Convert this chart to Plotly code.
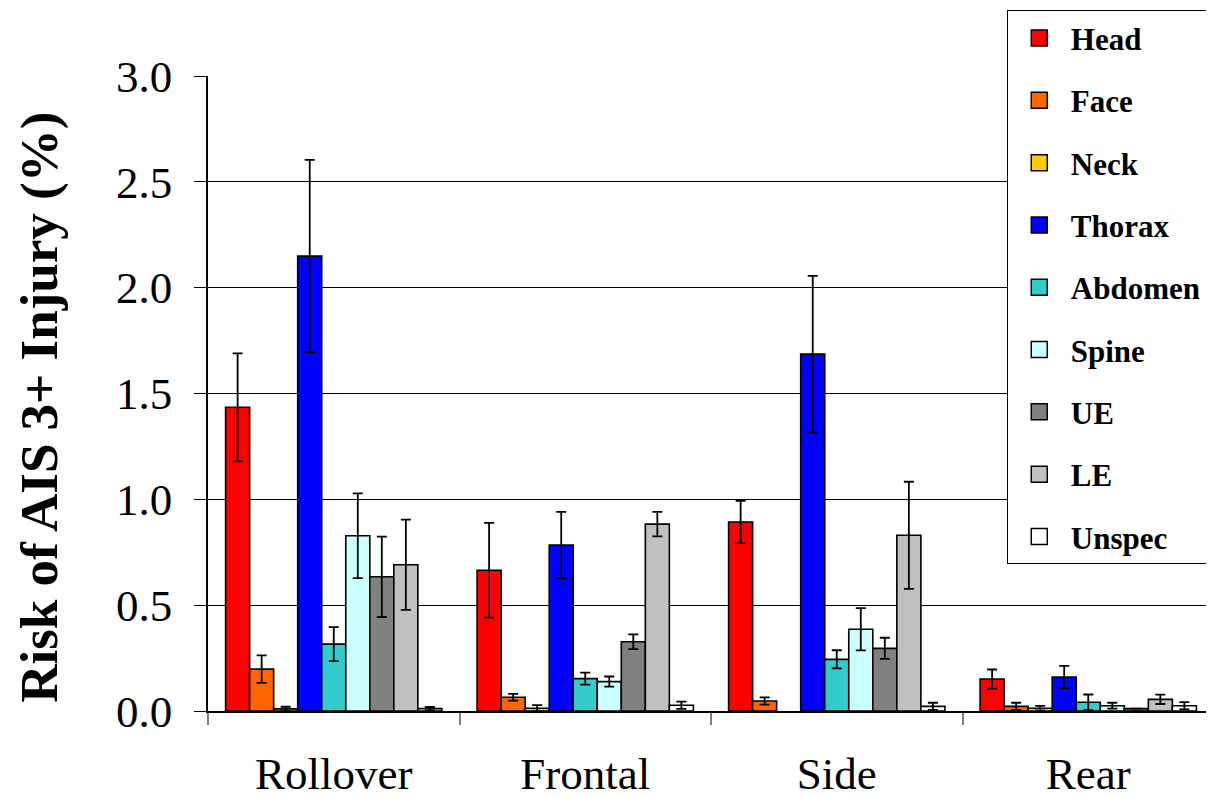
import plotly.graph_objects as go

crash_types = ["Rollover", "Frontal", "Side", "Rear"]
regions = ["Head", "Face", "Neck", "Thorax", "Abdomen", "Spine", "UE", "LE", "Unspec"]
colors = ["#FF0000", "#FF6600", "#FFCC00", "#0000FF", "#33CCCC", "#CCFFFF", "#808080", "#C0C0C0", "#FFFFFF"]
y_title = "Risk of AIS 3+ Injury (%)"

# risk values (%) per body region, order: Rollover, Frontal, Side, Rear
head    = [1.435, 0.665, 0.893, 0.151]
face    = [0.198, 0.065, 0.047, 0.022]
neck    = [0.010, 0.013, None, 0.013]
thorax  = [2.149, 0.784, 1.686, 0.160]
abdomen = [0.316, 0.153, 0.244, 0.041]
spine   = [0.828, 0.139, 0.386, 0.025]
ue      = [0.634, 0.327, 0.296, 0.011]
le      = [0.691, 0.883, 0.830, 0.055]
unspec  = [0.011, 0.027, 0.022, 0.025]

# error bar half-widths (%)
head_err    = [0.255, 0.224, 0.100, 0.045]
face_err    = [0.065, 0.016, 0.017, 0.017]
neck_err    = [0.010, 0.015, None, 0.011]
thorax_err  = [0.455, 0.157, 0.370, 0.053]
abdomen_err = [0.080, 0.028, 0.043, 0.037]
spine_err   = [0.200, 0.024, 0.100, 0.014]
ue_err      = [0.190, 0.035, 0.050, None]
le_err      = [0.213, 0.058, 0.253, 0.022]
unspec_err  = [0.008, 0.017, 0.017, 0.017]

values = [head, face, neck, thorax, abdomen, spine, ue, le, unspec]
errors = [head_err, face_err, neck_err, thorax_err, abdomen_err, spine_err, ue_err, le_err, unspec_err]

FONT = "Liberation Serif"

fig = go.Figure()
for name, col, vals, errs in zip(regions, colors, values, errors):
    fig.add_trace(go.Bar(
        name=name, x=crash_types, y=vals,
        marker=dict(color=col, line=dict(color="#000000", width=1.6)),
        error_y=dict(type="data", array=errs, visible=True, color="#000000", thickness=1.8, width=5),
        showlegend=False, legendgroup=name,
    ))
    fig.add_trace(go.Scatter(
        name=name, x=[None], y=[None], mode="markers",
        marker=dict(symbol="square", size=16, color=col, line=dict(color="#000000", width=1.5)),
        showlegend=True, legendgroup=name,
    ))

fig.update_layout(
    width=1214, height=797,
    margin=dict(l=200, r=8, t=68, b=94, autoexpand=False),
    paper_bgcolor="white", plot_bgcolor="white",
    barmode="group", bargap=0.14, bargroupgap=0,
    font=dict(family=FONT, color="#000000"),
    legend=dict(
        x=0.794, xanchor="left", y=0.997, yanchor="top",
        xref="paper", yref="container",
        bordercolor="#000000", borderwidth=1, bgcolor="white",
        font=dict(family=FONT, size=31, color="#000000", weight="bold"),
        traceorder="grouped", tracegroupgap=19,
        itemsizing="trace", itemwidth=53, maxheight=700,
    ),
    annotations=[dict(
        text=y_title, textangle=-90, showarrow=False,
        xref="paper", yref="paper", x=-0.167, y=0.479,
        xanchor="center", yanchor="middle",
        font=dict(family=FONT, size=53, color="#000000", weight="bold"),
    )],
)
fig.update_xaxes(
    type="category", showgrid=False, showline=True, linecolor="#000000", linewidth=1.5,
    ticks="outside", tickson="boundaries", ticklen=12, tickcolor="#808080", tickwidth=1.5,
    tickfont=dict(family=FONT, size=45, color="#000000"), ticklabelstandoff=22,
)
fig.update_yaxes(
    range=[0, 3.0], dtick=0.5, tickformat=".1f",
    showgrid=True, gridcolor="#000000", gridwidth=1,
    showline=True, linecolor="#000000", linewidth=1.5,
    ticks="outside", ticklen=12, tickcolor="#000000", tickwidth=1,
    tickfont=dict(family=FONT, size=45, color="#000000"), ticklabelstandoff=13,
    zeroline=False,
)

fig.write_html("out.html")
